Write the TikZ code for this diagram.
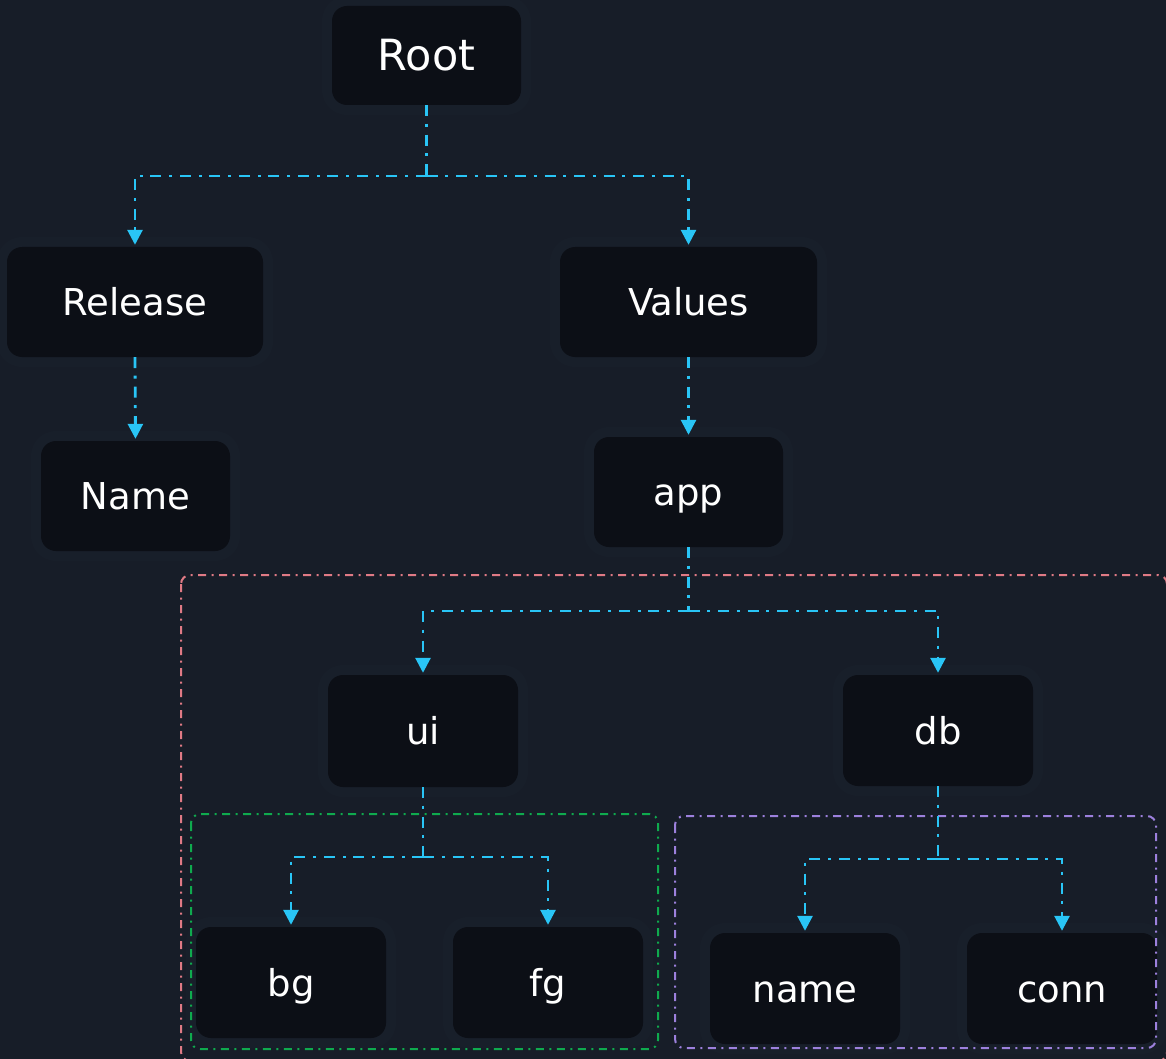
\documentclass[tikz,border=0pt]{standalone}
\usepackage{fontspec}
\setmainfont{DejaVu Sans}
\usetikzlibrary{arrows.meta}
\definecolor{bgc}{HTML}{171D28}
\definecolor{boxc}{HTML}{0C0F16}
\definecolor{haloc}{HTML}{1A212C}
\definecolor{linec}{HTML}{29C5F6}
\definecolor{redc}{HTML}{E07A85}
\definecolor{greenc}{HTML}{0FAA4E}
\definecolor{purplec}{HTML}{9C80DC}
\tikzset{
  box/.style={rectangle, rounded corners=15pt, fill=boxc, text=white,
    inner sep=0pt, minimum width=190pt, minimum height=111pt,
    font=\fontsize{37}{41}\selectfont, text height=27pt, text depth=0pt,
    preaction={draw=haloc, line width=20pt, opacity=0.5}},
  conn/.style={draw=linec, line width=2.8pt,
    dash pattern=on 11pt off 7.5pt on 3pt off 8pt,
    -{Triangle[length=15pt,width=15pt]}, shorten >=2pt},
  trunk/.style={draw=linec, line width=2.8pt,
    dash pattern=on 11pt off 7.5pt on 3pt off 8pt},
  grp/.style={line width=2pt, rounded corners=9pt,
    dash pattern=on 8pt off 5.5pt on 2pt off 5.5pt}
}
\begin{document}
\begin{tikzpicture}[x=1pt,y=-1pt]
\useasboundingbox (0,0) rectangle (1166,1059);
\fill[bgc] (0,0) rectangle (1166,1059);

% nodes
\node[box, minimum width=189pt, minimum height=99pt,
  font=\fontsize{43}{47}\selectfont, text height=31pt] (root) at (426.5,55.5) {Root};
\node[box, minimum width=256pt, minimum height=110pt] (release) at (135,302) {Release};
\node[box, minimum width=189pt, minimum height=110pt] (rname) at (135.5,496) {Name};
\node[box, minimum width=257pt, minimum height=110pt] (values) at (688.5,302) {Values};
\node[box, minimum width=189pt, minimum height=110pt] (app) at (688.5,492) {app};
\node[box, minimum height=112pt] (ui) at (423,731) {ui};
\node[box] (db) at (938,730.5) {db};
\node[box] (bg) at (291,982.5) {bg};
\node[box] (fg) at (548,982.5) {fg};
\node[box] (nname) at (805,988.5) {name};
\node[box] (connn) at (1062,988.5) {conn};

% groups
\draw[grp, draw=redc] (181,575) rectangle (1167,1061);
\draw[grp, draw=greenc] (191,814) rectangle (658,1049);
\draw[grp, draw=purplec] (675,816) rectangle (1156,1048);

% connectors
\coordinate (j1) at (426.5,176);
\coordinate (j2) at (688.5,611);
\coordinate (j3) at (423,857);
\coordinate (j4) at (938,859);

\draw[trunk] (root.south) -- (j1);
\draw[conn] (j1) -| (release.north);
\draw[conn] (j1) -| (values.north);
\draw[conn] (release.south) -- (rname.north);
\draw[conn] (values.south) -- (app.north);

\draw[trunk] (app.south) -- (j2);
\draw[conn] (j2) -| (ui.north);
\draw[conn] (j2) -| (db.north);

\draw[trunk] (ui.south) -- (j3);
\draw[conn] (j3) -| (bg.north);
\draw[conn] (j3) -| (fg.north);

\draw[trunk] (db.south) -- (j4);
\draw[conn] (j4) -| (nname.north);
\draw[conn] (j4) -| (connn.north);
\end{tikzpicture}
\end{document}
